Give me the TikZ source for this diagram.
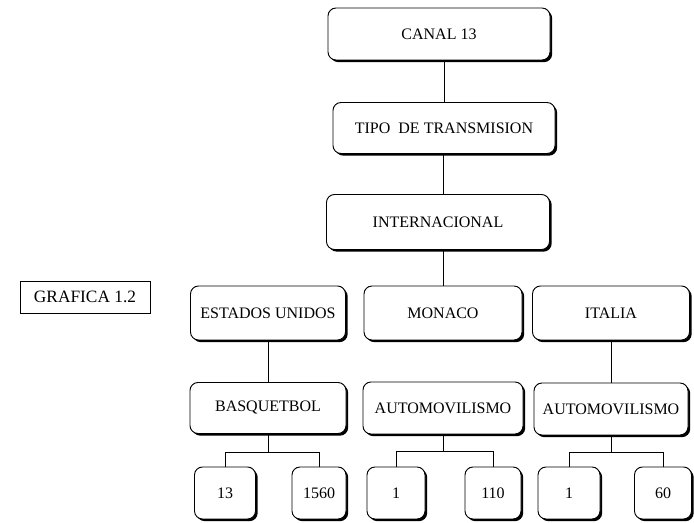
\documentclass[tikz,border=0pt]{standalone}
\usepackage{fontspec}
\setmainfont{Liberation Serif}
\usetikzlibrary{shadows}
\begin{document}
\begin{tikzpicture}[x=0.75pt,y=-0.75pt,
  caja/.style={draw,line width=0.7pt,rounded corners=6pt,fill=white,
    inner sep=0pt,font=\fontsize{12}{14}\selectfont,
    drop shadow={shadow xshift=1.6pt,shadow yshift=-1.6pt,fill=black,opacity=1}},
  linea/.style={line width=0.6pt}]
\useasboundingbox (0,0) rectangle (694,523);

\node[draw,line width=0.6pt,minimum width=130*0.75pt,minimum height=32*0.75pt,
  font=\fontsize{13}{15}\selectfont] (grafica) at (85,297) {GRAFICA 1.2};

\node[caja,minimum width=222*0.75pt,minimum height=52*0.75pt] (canal) at (439,34) {CANAL 13};
\node[caja,minimum width=222*0.75pt,minimum height=51*0.75pt] (tipo) at (444,128) {TIPO\ \ DE TRANSMISION};
\node[caja,minimum width=223*0.75pt,minimum height=55*0.75pt] (inter) at (438,222) {INTERNACIONAL};

\node[caja,minimum width=155*0.75pt,minimum height=54*0.75pt] (eeuu) at (268,313) {ESTADOS UNIDOS};
\node[caja,minimum width=158*0.75pt,minimum height=54*0.75pt] (monaco) at (443,313) {MONACO};
\node[caja,minimum width=157*0.75pt,minimum height=54*0.75pt] (italia) at (611,313) {ITALIA};

\node[caja,minimum width=156*0.75pt,minimum height=51*0.75pt] (basq) at (268,408) {BASQUETBOL};
\node[caja,minimum width=160*0.75pt,minimum height=52*0.75pt] (autom) at (443,408) {AUTOMOVILISMO};
\node[caja,minimum width=154*0.75pt,minimum height=52*0.75pt] (autoi) at (611,409) {AUTOMOVILISMO};

\node[caja,minimum width=61*0.75pt,minimum height=52*0.75pt] (n13) at (225,493) {13};
\node[caja,minimum width=54*0.75pt,minimum height=52*0.75pt] (n1560) at (319,493) {1560};
\node[caja,minimum width=58*0.75pt,minimum height=52*0.75pt] (m1) at (396,493) {1};
\node[caja,minimum width=56*0.75pt,minimum height=52*0.75pt] (m110) at (493,493) {110};
\node[caja,minimum width=62*0.75pt,minimum height=52*0.75pt] (i1) at (569,493) {1};
\node[caja,minimum width=57*0.75pt,minimum height=52*0.75pt] (i60) at (663,493) {60};

\draw[linea] (tipo.north) -- (tipo.north |- canal.south);
\draw[linea] (monaco.north |- tipo.south) -- (monaco.north |- inter.north);
\draw[linea] (monaco.north) -- (monaco.north |- inter.south);
\draw[linea] (eeuu.south) -- (basq.north);
\draw[linea] (italia.south) -- (autoi.north);

\draw[linea] (basq.south) -- ++(0,18) -| (n13.north);
\draw[linea] (basq.south) ++(0,18) -| (n1560.north);
\draw[linea] (autom.south) -- ++(0,17) -| (m1.north);
\draw[linea] (autom.south) ++(0,17) -| (m110.north);
\draw[linea] (autoi.south) -- ++(0,17) -| (i1.north);
\draw[linea] (autoi.south) ++(0,17) -| (i60.north);
\end{tikzpicture}
\end{document}
